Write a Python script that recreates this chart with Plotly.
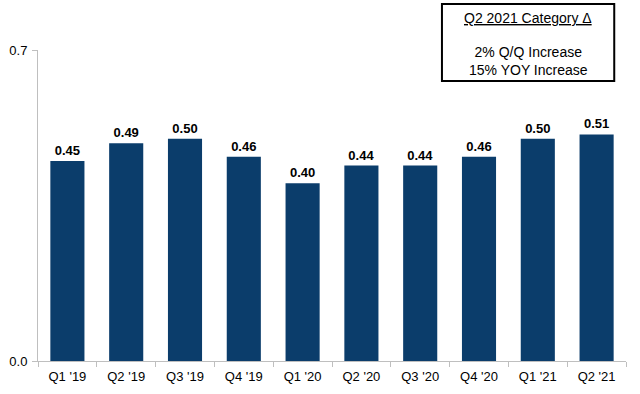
import plotly.graph_objects as go

categories = ["Q1 '19", "Q2 '19", "Q3 '19", "Q4 '19", "Q1 '20", "Q2 '20", "Q3 '20", "Q4 '20", "Q1 '21", "Q2 '21"]
values = [0.45, 0.49, 0.50, 0.46, 0.40, 0.44, 0.44, 0.46, 0.50, 0.51]
box_title = "Q2 2021 Category Δ"
box_lines = ["2% Q/Q Increase", "15% YOY Increase"]

FONT = "Liberation Sans, Arial, sans-serif"

fig = go.Figure()
fig.add_trace(go.Bar(
    x=categories, y=values,
    width=0.58,
    marker=dict(color="#0B3D6B", line=dict(width=0)),
    text=[f"{v:.2f}" for v in values],
    textposition="outside",
    textfont=dict(family=FONT, size=13, color="#000000", weight="bold"),
    cliponaxis=False,
    hoverinfo="x+y",
))

fig.update_layout(
    width=640, height=394,
    margin=dict(l=38, r=14, t=50, b=33, autoexpand=False),
    paper_bgcolor="white", plot_bgcolor="white",
    showlegend=False,
    font=dict(family=FONT, size=13, color="#000000"),
    xaxis=dict(
        type="category", range=[-0.5, 9.5],
        showline=True, linecolor="#BFBFBF", linewidth=1,
        ticks="outside", tickson="boundaries", ticklen=5, tickcolor="#BFBFBF",
        showgrid=False, zeroline=False, automargin=False,
        ticklabelstandoff=3,
        tickfont=dict(family=FONT, size=13, color="#000000"),
    ),
    yaxis=dict(
        range=[0, 0.7], tickvals=[0, 0.7], tickformat=".1f",
        showline=True, linecolor="#BFBFBF", linewidth=1,
        ticks="outside", ticklen=5, tickcolor="#BFBFBF",
        showgrid=False, zeroline=False, automargin=False,
        ticklabelstandoff=2,
        tickfont=dict(family=FONT, size=13, color="#000000"),
    ),
)

fig.add_shape(type="rect", xref="paper", yref="paper",
              x0=0.687, x1=0.98, y0=0.9003, y1=1.148,
              line=dict(color="#000000", width=2), fillcolor="white", layer="above")
fig.add_annotation(xref="paper", yref="paper", x=0.8335, y=1.103,
                   xanchor="center", yanchor="middle",
                   text=f"<u>{box_title}</u>", showarrow=False,
                   font=dict(family=FONT, size=14, color="#000000"))
fig.add_annotation(xref="paper", yref="paper", x=0.8335, y=0.966,
                   xanchor="center", yanchor="middle",
                   text="<br>".join(box_lines), showarrow=False,
                   font=dict(family=FONT, size=14, color="#000000"))

fig.write_html("out.html", config={"displayModeBar": False},
               post_script="document.body.style.margin='0';")
